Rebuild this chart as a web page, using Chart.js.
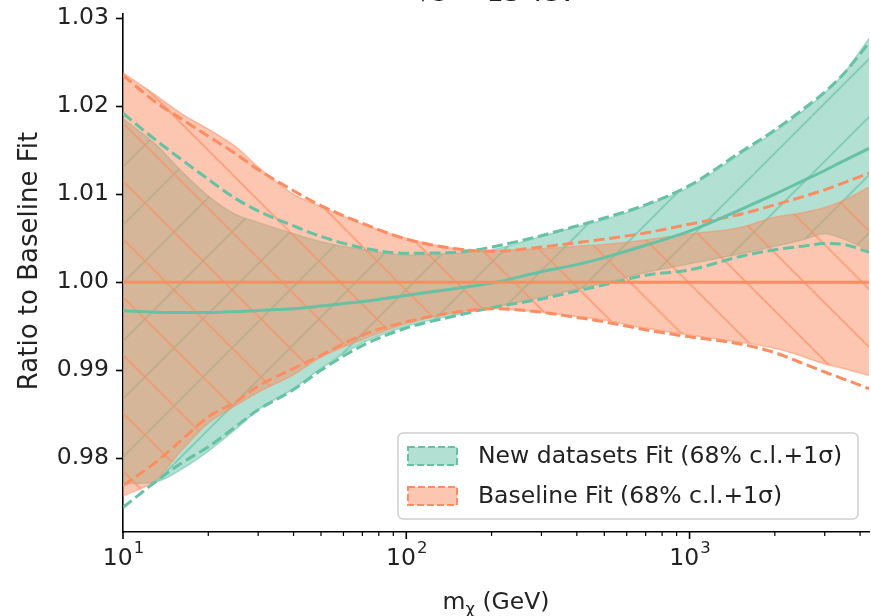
<!DOCTYPE html>
<html>
<head>
<meta charset="utf-8">
<script src="https://cdn.jsdelivr.net/npm/chart.js@4.4.1/dist/chart.umd.min.js"></script>
<style>
  html, body { margin: 0; padding: 0; background: #fff; }
  #wrap { width: 871px; height: 616px; }
</style>
</head>
<body>
<div id="wrap"><canvas id="ratioChart" width="871" height="616"></canvas></div>
<script>
// mass points (GeV)
const masses = [10, 13, 16, 20, 25, 30, 40, 50, 70, 100, 150, 200, 300, 400, 500, 700, 1000, 1500, 2000, 2500, 3000, 3500, 4300];

// baseline fit, ratio to itself
const baseCentral = [1, 1, 1, 1, 1, 1, 1, 1, 1, 1, 1, 1, 1, 1, 1, 1, 1, 1, 1, 1, 1, 1, 1];
const baseBandUp  = [1.0238, 1.0213, 1.0192, 1.0174, 1.0154, 1.0131, 1.0100, 1.0086, 1.0066, 1.0050, 1.0038, 1.0036, 1.0038, 1.0041, 1.0043, 1.0048, 1.0055, 1.0062, 1.0074, 1.0079, 1.0085, 1.0093, 1.0108];
const baseBandLo  = [0.9757, 0.9775, 0.9808, 0.9840, 0.9860, 0.9875, 0.9895, 0.9915, 0.9935, 0.9953, 0.9966, 0.9970, 0.9966, 0.9961, 0.9957, 0.9948, 0.9940, 0.9932, 0.9925, 0.9916, 0.9907, 0.9902, 0.9894];
const baseSigmaUp = [1.0235, 1.0205, 1.0186, 1.0166, 1.0146, 1.0128, 1.0104, 1.0087, 1.0067, 1.0049, 1.0038, 1.0035, 1.0040, 1.0045, 1.0049, 1.0056, 1.0066, 1.0077, 1.0088, 1.0097, 1.0105, 1.0113, 1.0124];
const baseSigmaLo = [0.9769, 0.9795, 0.9820, 0.9847, 0.9864, 0.9882, 0.9902, 0.9917, 0.9940, 0.9955, 0.9966, 0.9970, 0.9966, 0.9960, 0.9955, 0.9946, 0.9938, 0.9930, 0.9920, 0.9908, 0.9898, 0.9890, 0.9879];

// fit including the new datasets
const newCentral = [0.99675, 0.9966, 0.99655, 0.99655, 0.99665, 0.9968, 0.9970, 0.9973, 0.9978, 0.9985, 0.9993, 0.9999, 1.0012, 1.0020, 1.0028, 1.0042, 1.0058, 1.0082, 1.0100, 1.0115, 1.0127, 1.0138, 1.0152];
const newBandUp  = [1.0186, 1.0157, 1.0127, 1.0098, 1.0077, 1.0068, 1.0055, 1.0046, 1.0037, 1.0031, 1.0033, 1.0037, 1.0052, 1.0063, 1.0071, 1.0087, 1.0108, 1.0145, 1.0171, 1.0194, 1.0215, 1.0237, 1.0277];
const newBandLo  = [0.9771, 0.9773, 0.9787, 0.9808, 0.9833, 0.9855, 0.9879, 0.9902, 0.9931, 0.9950, 0.9963, 0.9971, 0.9983, 0.9992, 0.9999, 1.0011, 1.0021, 1.0032, 1.0041, 1.0048, 1.0055, 1.0049, 1.0036];
const newSigmaUp = [1.0192, 1.0162, 1.0140, 1.0117, 1.0095, 1.0081, 1.0064, 1.0052, 1.0039, 1.0033, 1.0034, 1.0040, 1.0053, 1.0064, 1.0073, 1.0088, 1.0110, 1.0147, 1.0173, 1.0196, 1.0216, 1.0237, 1.0272];
const newSigmaLo = [0.9744, 0.9773, 0.9794, 0.9813, 0.9836, 0.9855, 0.9878, 0.9900, 0.9928, 0.9948, 0.9962, 0.9971, 0.9981, 0.9990, 0.9997, 1.0008, 1.0014, 1.0029, 1.0037, 1.0041, 1.0044, 1.0043, 1.0034];

const legendLabels = ['New datasets Fit (68% c.l.+1\u03c3)', 'Baseline Fit (68% c.l.+1\u03c3)'];
const yTicks = [0.98, 0.99, 1.00, 1.01, 1.02, 1.03];
const xMajorTicks = [10, 100, 1000];
const xMinorTicks = [20, 30, 40, 50, 60, 70, 80, 90, 200, 300, 400, 500, 600, 700, 800, 900, 2000, 3000, 4000];

const GREEN = '#66c2a5';
const ORANGE = '#fc8d62';
const FONT = '"DejaVu Sans", sans-serif';
const FS = 23.5;

function rgba(hex, a) {
  const n = parseInt(hex.slice(1), 16);
  return `rgba(${n >> 16}, ${(n >> 8) & 255}, ${n & 255}, ${a})`;
}

// diagonal hatch tile: '/' rises to the right, '\\' falls to the right
function hatchPattern(color, dir) {
  const s = 58;
  const c = document.createElement('canvas');
  c.width = s; c.height = s;
  const g = c.getContext('2d');
  g.fillStyle = rgba(color, 0.5);
  g.fillRect(0, 0, s, s);
  g.strokeStyle = rgba(color, 0.6);
  g.lineWidth = 2;
  for (let k = -1; k <= 1; k++) {
    g.beginPath();
    if (dir === '/') { g.moveTo(k * s, s); g.lineTo(k * s + s, 0); }
    else { g.moveTo(k * s, 0); g.lineTo(k * s + s, s); }
    g.stroke();
  }
  return g.createPattern(c, 'repeat');
}

const pts = arr => masses.map((m, i) => ({ x: m, y: arr[i] }));

function line(values, color, opts) {
  return Object.assign({
    data: pts(values),
    borderColor: color,
    borderWidth: 3,
    pointRadius: 0,
    fill: false,
    cubicInterpolationMode: 'monotone'
  }, opts || {});
}

// first dataset is drawn last (on top)
const datasets = [
  line(baseCentral, ORANGE),
  line(newCentral, GREEN),
  line(baseSigmaUp, ORANGE, { borderDash: [11, 4.7] }),
  line(baseSigmaLo, ORANGE, { borderDash: [11, 4.7] }),
  line(newSigmaUp, GREEN, { borderDash: [11, 4.7] }),
  line(newSigmaLo, GREEN, { borderDash: [11, 4.7] }),
  line(baseBandUp, rgba(ORANGE, 0.5), { borderWidth: 1.5, fill: '+1', backgroundColor: hatchPattern(ORANGE, '\\') }),
  line(baseBandLo, rgba(ORANGE, 0.5), { borderWidth: 1.5 }),
  line(newBandUp, rgba(GREEN, 0.5), { borderWidth: 1.5, fill: '+1', backgroundColor: hatchPattern(GREEN, '/') }),
  line(newBandLo, rgba(GREEN, 0.5), { borderWidth: 1.5 })
];

function drawLegend(ctx) {
  const bx = 398, by = 433, bw = 460, bh = 86, r = 5;
  ctx.beginPath();
  ctx.roundRect(bx, by, bw, bh, r);
  ctx.fillStyle = 'rgba(255,255,255,0.8)';
  ctx.fill();
  ctx.strokeStyle = '#d0d0d0';
  ctx.lineWidth = 1.5;
  ctx.stroke();

  const colors = [GREEN, ORANGE];
  legendLabels.forEach((label, i) => {
    const cy = 456 + i * 40;
    ctx.fillStyle = rgba(colors[i], 0.5);
    ctx.fillRect(408, cy - 9, 49, 18);
    ctx.setLineDash([7, 3]);
    ctx.strokeStyle = colors[i];
    ctx.lineWidth = 2;
    ctx.strokeRect(408, cy - 9, 49, 18);
    ctx.setLineDash([]);
    ctx.fillStyle = '#222';
    ctx.font = `${FS}px ${FONT}`;
    ctx.textAlign = 'left';
    ctx.textBaseline = 'middle';
    ctx.fillText(label, 478, cy + 1);
  });
}

const decorations = {
  id: 'decorations',
  afterDraw(chart) {
    const ctx = chart.ctx;
    const xs = chart.scales.x;
    const area = chart.chartArea;
    ctx.save();

    // x ticks, major and minor
    ctx.strokeStyle = '#000';
    xMajorTicks.forEach(v => {
      const px = xs.getPixelForValue(v);
      ctx.lineWidth = 1.6;
      ctx.beginPath(); ctx.moveTo(px, area.bottom); ctx.lineTo(px, area.bottom + 7); ctx.stroke();
    });
    xMinorTicks.forEach(v => {
      const px = xs.getPixelForValue(v);
      ctx.lineWidth = 1.2;
      ctx.beginPath(); ctx.moveTo(px, area.bottom); ctx.lineTo(px, area.bottom + 4); ctx.stroke();
    });

    // x tick labels 10^n
    ctx.fillStyle = '#222';
    ctx.textBaseline = 'alphabetic';
    ctx.textAlign = 'left';
    xMajorTicks.forEach(v => {
      const px = xs.getPixelForValue(v);
      const exp = String(Math.round(Math.log10(v)));
      ctx.font = `${FS}px ${FONT}`;
      const wb = ctx.measureText('10').width;
      ctx.font = `${FS * 0.7}px ${FONT}`;
      const we = ctx.measureText(exp).width;
      const x0 = px - (wb + we) / 2;
      ctx.font = `${FS}px ${FONT}`;
      ctx.fillText('10', x0, 565);
      ctx.font = `${FS * 0.7}px ${FONT}`;
      ctx.fillText(exp, x0 + wb + 1, 553);
    });

    // x axis label m_chi (GeV)
    ctx.font = `${FS}px ${FONT}`;
    const wm = ctx.measureText('m').width;
    const wr = ctx.measureText(' (GeV)').width;
    ctx.font = `${FS * 0.7}px ${FONT}`;
    const wc = ctx.measureText('\u03c7').width;
    const cx = (area.left + area.right) / 2;
    const x0 = cx - (wm + wc + wr) / 2;
    ctx.font = `${FS}px ${FONT}`;
    ctx.fillText('m', x0, 609);
    ctx.font = `${FS * 0.7}px ${FONT}`;
    ctx.fillText('\u03c7', x0 + wm, 614);
    ctx.font = `${FS}px ${FONT}`;
    ctx.fillText(' (GeV)', x0 + wm + wc, 609);

    // y axis label
    ctx.save();
    ctx.translate(30, 261);
    ctx.rotate(-Math.PI / 2);
    ctx.font = `26px ${FONT}`;
    ctx.textAlign = 'center';
    ctx.textBaseline = 'middle';
    ctx.fillText('Ratio to Baseline Fit', 0, 0);
    ctx.restore();

    // title, sitting just above the axes
    ctx.font = `27px ${FONT}`;
    ctx.textAlign = 'center';
    ctx.textBaseline = 'alphabetic';
    ctx.fillText('\u221as = 13 TeV', cx, 1);

    drawLegend(ctx);
    ctx.restore();
  }
};

new Chart(document.getElementById('ratioChart'), {
  type: 'line',
  data: { datasets },
  options: {
    responsive: false,
    animation: false,
    devicePixelRatio: 1,
    layout: { padding: { left: 0, right: 2, top: 14, bottom: 0 } },
    plugins: { legend: { display: false }, tooltip: { enabled: false } },
    scales: {
      x: {
        type: 'logarithmic',
        min: 10,
        max: 4300,
        grid: { display: false },
        ticks: { display: false },
        border: { display: true, color: '#000', width: 1.6 },
        afterFit: s => { s.height = 84; }
      },
      y: {
        min: 0.97162,
        max: 1.03048,
        afterBuildTicks: s => { s.ticks = yTicks.map(v => ({ value: v })); },
        ticks: {
          callback: v => Number(v).toFixed(2),
          font: { family: FONT, size: FS, lineHeight: 0.5 },
          color: '#222',
          padding: 7
        },
        grid: { drawOnChartArea: false, tickLength: 7, tickWidth: 1.6, tickColor: '#000' },
        border: { display: true, color: '#000', width: 1.6 },
        afterFit: s => { s.width = 123; }
      }
    }
  },
  plugins: [decorations]
});
</script>
</body>
</html>
